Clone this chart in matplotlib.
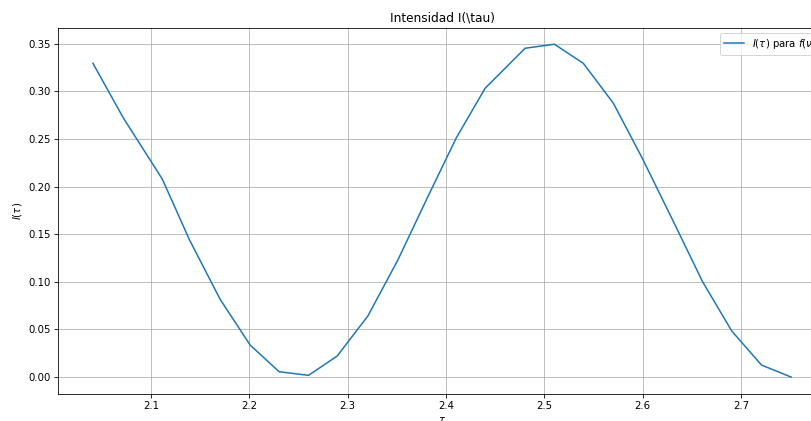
import matplotlib
matplotlib.use("Agg")
import matplotlib.pyplot as plt

tau = [2.041, 2.072, 2.1115, 2.1393, 2.1704, 2.2009, 2.2304, 2.2603, 2.2894,
       2.3206, 2.3511, 2.3805, 2.4103, 2.4398, 2.4805, 2.5103, 2.5397, 2.5703,
       2.5997, 2.6305, 2.661, 2.6907, 2.7209, 2.751]
intensity = [0.3295, 0.272, 0.208, 0.1439, 0.0816, 0.0336, 0.0056, 0.0018, 0.0221,
             0.0641, 0.1229, 0.187, 0.2507, 0.3032, 0.3453, 0.3495, 0.3295, 0.2875,
             0.2297, 0.165, 0.1001, 0.0483, 0.0126, 0.0]

DPI = 73
fig = plt.figure(figsize=(811 / DPI, 421 / DPI), dpi=DPI)
ax = fig.add_axes([58 / 811, (421 - 393.7) / 421, 768 / 811, 366.1 / 421])
ax.plot(tau, intensity, label=r"$I(\tau)$ para $f(\nu)$")
ax.set_title(r"Intensidad I(\tau)")
ax.set_xlabel(r"$\tau$")
ax.set_ylabel(r"$I(\tau)$")
ax.grid(True)
ax.legend(loc="upper right")
fig.savefig("out.png", dpi=DPI)
